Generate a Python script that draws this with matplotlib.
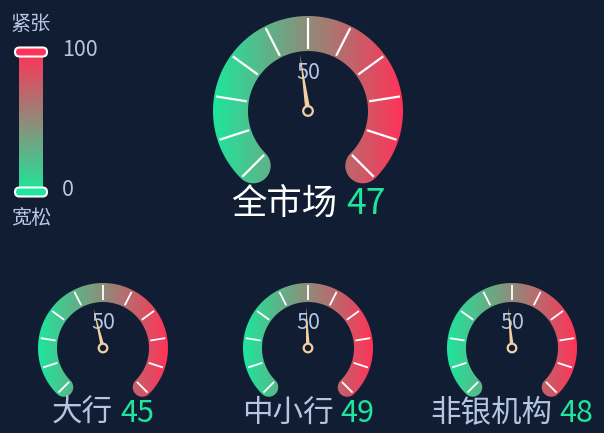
import matplotlib.pyplot as plt
import numpy as np
from matplotlib.colors import to_rgb
from matplotlib.patches import Polygon, Circle, FancyBboxPatch

plt.rcParams["font.family"] = ["Noto Sans CJK SC", "DejaVu Sans"]

# Data ------------------------------------------------------------------------------ #
names = ["全市场", "大行", "中小行", "非银机构"]
values = [47, 45, 49, 48]
v_min, v_max = 0, 100
mid_label = "50"
legend_high, legend_low = "紧张", "宽松"

# Style ----------------------------------------------------------------------------- #
BG = "#101d33"
GREEN = "#1ee69c"
RED = "#ff3358"
LIGHT = "#b6c6e2"
NEEDLE = "#f2d0a4"
W, H = 604, 433
START, END = 225, -45

centers = [(308, 111), (103, 348), (308, 348), (512, 348)]
r_outer = [95, 65, 65, 65]
bands = [35, 19, 19, 19]
needle_len = [57, 41, 41, 41]
label_y = [204, 413, 413, 413]
label_size = [25.5, 22]
mid_y_off = [38, 25, 25, 25]


def gradient(n, rows=False):
    t = np.linspace(0, 1, n)[:, None]
    g, r = np.array(to_rgb(GREEN)), np.array(to_rgb(RED))
    c = g * (1 - t) + r * t
    return c[:, None, :] if rows else c[None, :, :]


def pt(cx, cy, r, deg):
    a = np.deg2rad(deg)
    return cx + r * np.cos(a), cy - r * np.sin(a)


def band_outline(cx, cy, ro, ri):
    rm, hw = (ro + ri) / 2, (ro - ri) / 2
    pts = []
    for a in np.linspace(START, END, 200):
        pts.append(pt(cx, cy, ro, a))
    ex, ey = pt(cx, cy, rm, END)
    for p in np.linspace(END, END - 180, 40):
        pts.append(pt(ex, ey, hw, p))
    for a in np.linspace(END, START, 200):
        pts.append(pt(cx, cy, ri, a))
    sx, sy = pt(cx, cy, rm, START)
    for p in np.linspace(START + 180, START, 40):
        pts.append(pt(sx, sy, hw, p))
    return np.array(pts)


fig = plt.figure(figsize=(W / 100, H / 100), dpi=100, facecolor=BG)
ax = fig.add_axes([0, 0, 1, 1])
ax.set_facecolor(BG)
ax.axis("off")

for i, (cx, cy) in enumerate(centers):
    ro = r_outer[i]
    ri = ro - bands[i]
    outline = Polygon(band_outline(cx, cy, ro, ri), closed=True, transform=ax.transData)
    im = ax.imshow(gradient(256), extent=(cx - ro, cx + ro, cy + ro, cy - ro),
                   aspect="auto", interpolation="bilinear", zorder=1)
    im.set_clip_path(outline)

    # split lines
    for k in range(11):
        a = START - 27 * k
        x0, y0 = pt(cx, cy, ri + 2, a)
        x1, y1 = pt(cx, cy, ro - 2, a)
        ax.plot([x0, x1], [y0, y1], color="white", lw=1.6 if i == 0 else 1.3,
                solid_capstyle="butt", zorder=2)

    ax.text(cx, cy - mid_y_off[i], mid_label, color=LIGHT, fontsize=15.5,
            ha="center", va="center", zorder=3)

    # needle
    a = START - (START - END) * (values[i] - v_min) / (v_max - v_min)
    tx, ty = pt(cx, cy, needle_len[i], a)
    hw = 2.6 if i == 0 else 2.0
    lx, ly = pt(cx, cy, hw, a + 90)
    rx, ry = pt(cx, cy, hw, a - 90)
    ax.add_patch(Polygon([(tx, ty), (lx, ly), (rx, ry)], closed=True,
                         fc=NEEDLE, ec="none", zorder=4))
    ax.add_patch(Circle((cx, cy), 4.8 if i == 0 else 4.3, fc=BG, ec=NEEDLE,
                        lw=1.6, zorder=5))

# titles under each gauge
fig.canvas.draw()
rend = fig.canvas.get_renderer()
for i, (cx, cy) in enumerate(centers):
    fs = label_size[0] if i == 0 else label_size[1]
    t1 = ax.text(0, label_y[i], names[i], color="white" if i == 0 else LIGHT,
                 fontsize=fs, ha="left", va="center", zorder=3)
    t2 = ax.text(0, label_y[i], str(values[i]), color=GREEN, fontsize=fs,
                 ha="left", va="center", zorder=3)
    w1 = t1.get_window_extent(rend).width
    w2 = t2.get_window_extent(rend).width
    gap = 9 if i == 0 else 7
    x0 = cx - (w1 + gap + w2) / 2
    t1.set_x(x0)
    t2.set_x(x0 + w1 + gap)

# visual map legend
bar = ax.imshow(gradient(256, rows=True)[::-1], extent=(19, 43, 192, 52),
                aspect="auto", interpolation="bilinear", zorder=1)
for yc, col in [(52, RED), (192, GREEN)]:
    ax.add_patch(FancyBboxPatch((15, yc - 4.5), 32, 9,
                                boxstyle="round,pad=0,rounding_size=4.5",
                                fc=col, ec="white", lw=1.5, zorder=3))
ax.text(62, 50, str(v_max), color=LIGHT, fontsize=15.5, ha="left", va="center")
ax.text(62, 190, str(v_min), color=LIGHT, fontsize=15.5, ha="left", va="center")
ax.text(31, 24, legend_high, color=LIGHT, fontsize=14.5, ha="center", va="center")
ax.text(31, 219, legend_low, color=LIGHT, fontsize=14.5, ha="center", va="center")

ax.set_xlim(0, W)
ax.set_ylim(H, 0)
fig.savefig("out.png", dpi=100, facecolor=BG)
